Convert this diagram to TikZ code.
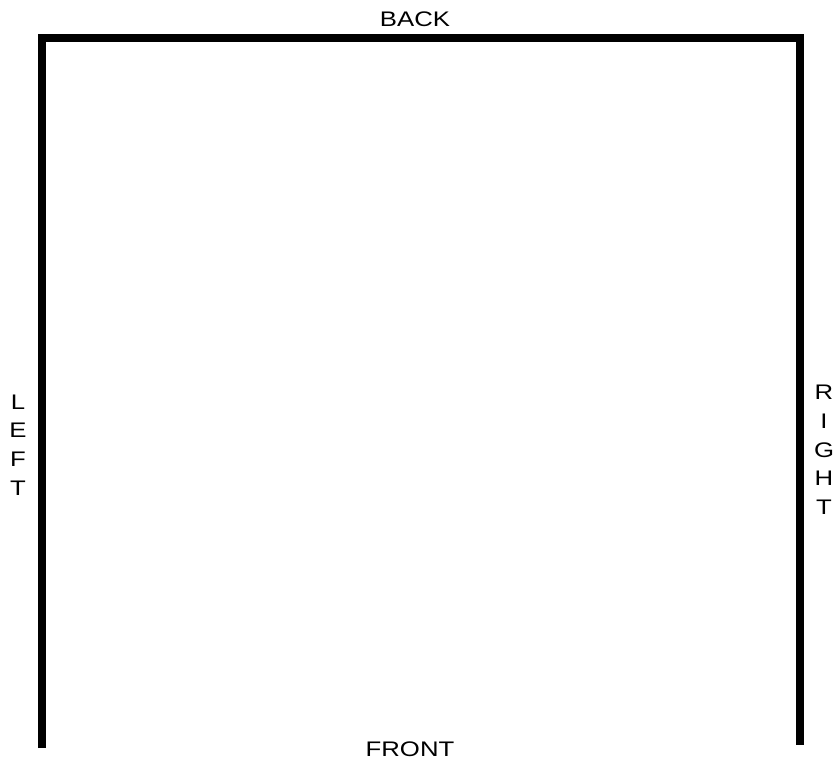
\documentclass[tikz,border=0pt]{standalone}
\usepackage{fontspec}
\setmainfont{Liberation Sans}
\newfontfamily\wallfont[FakeStretch=1.22]{Liberation Sans}
\begin{document}
\begin{tikzpicture}[x=0.03cm, y=-0.03cm,
    wall/.style={line width=7.5pt, line join=miter},
    side/.style={font=\wallfont\fontsize{18}{24.5}\selectfont, inner sep=0pt, align=center}]
    
    \useasboundingbox (0,0) rectangle (835,764);
    
    % corners of the room outline
    \coordinate (frontleft) at (42, 748);
    \coordinate (backleft) at (42, 38);
    \coordinate (backright) at (800, 38);
    \coordinate (frontright) at (800, 745);
    
    \draw[wall] (frontleft) -- (backleft) -- (backright) -- (frontright);
    
    \node[side] (back) at (415, 19) {BACK};
    \node[side] (front) at (410, 749) {FRONT};
    \node[side] (left) at (18, 445) {L\\E\\F\\T};
    \node[side] (right) at (824, 450) {R\\I\\G\\H\\T};
    
\end{tikzpicture}
\end{document}
